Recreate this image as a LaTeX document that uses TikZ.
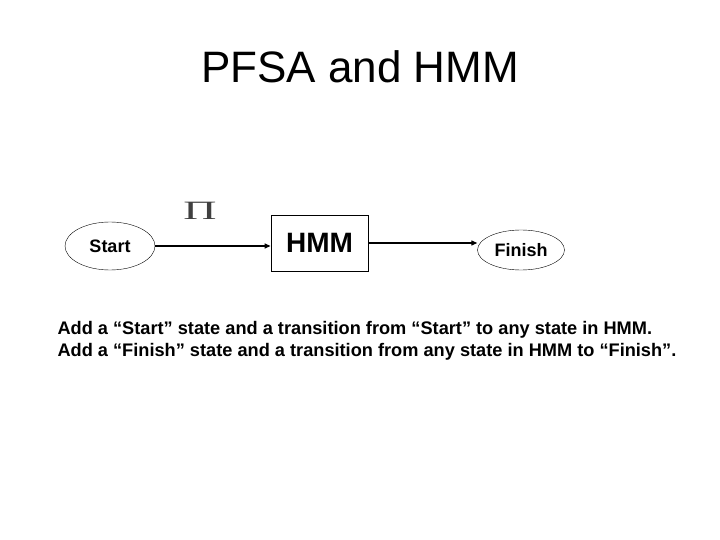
\documentclass[tikz,border=0pt]{standalone}
\usepackage{fontspec}
\setmainfont{Liberation Sans}
\newfontfamily\pifont{Liberation Serif}
\usepackage{graphicx}
\usepackage{tikz}
\usetikzlibrary{positioning, arrows.meta, shapes.geometric}

\begin{document}
\begin{tikzpicture}[
    x=1pt, y=-1pt,
    every node/.style={font=\bfseries\fontsize{18}{22}\selectfont},
    state/.style={ellipse, draw, thin, minimum width=#1, minimum height=44pt, inner sep=0pt},
    state/.default=90pt,
    arr/.style={-{Triangle[length=6pt, width=5pt]}, line width=1.2pt},
]
    \useasboundingbox (0,0) rectangle (720,540);

    \node[font=\fontsize{44}{50}\selectfont] (title) at (360,67) {PFSA and HMM};

    \node[state=90pt, minimum height=48pt] (start) at (110,246) {Start};
    \node[rectangle, draw, thick, minimum width=97pt, minimum height=56pt,
          font=\bfseries\fontsize{28}{32}\selectfont] (hmm) at (319.5,243) {HMM};
    \node[state=87pt, minimum height=40pt] (finish) at (521,250) {Finish};
    \node[font=\pifont\fontsize{23}{26}\selectfont, text=black!75] (pi) at (200,211)
        {\scalebox{2.0}[1.15]{Π}};

    \draw[arr] (start.east) -- (hmm.west |- start.east);
    \draw[arr] (hmm.east) -- (finish.west |- hmm.east);

    % explanation below the diagram
    \node[anchor=west, align=left, font=\bfseries\fontsize{18.2}{22}\selectfont] (note) at (54,341)
        {Add a “Start” state and a transition from “Start” to any state in HMM.\\
         Add a “Finish” state and a transition from any state in HMM to “Finish”.};
\end{tikzpicture}
\end{document}
